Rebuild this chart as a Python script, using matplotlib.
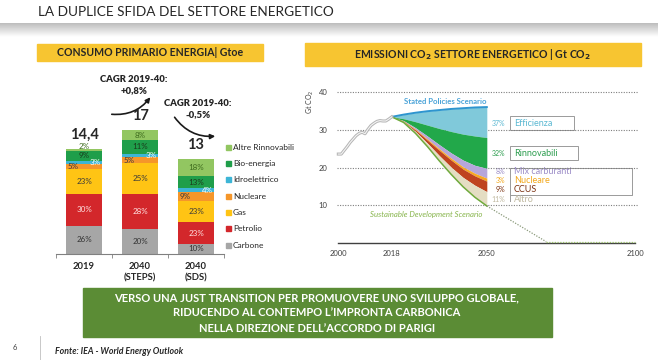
import numpy as np
import matplotlib
matplotlib.use('Agg')
import matplotlib.pyplot as plt
from matplotlib.patches import Rectangle, FancyArrowPatch

plt.rcParams['font.family'] = ['Lato', 'DejaVu Sans']

# consumo primario di energia (Gtoe) e quote per fonte
scenari = ['2019', '2040\n(STEPS)', '2040\n(SDS)']
totali = [14.4, 17, 13]
totali_lbl = ['14,4', '17', '13']
fonti = ['Carbone', 'Petrolio', 'Gas', 'Nucleare', 'Idroelettrico', 'Bio-energia', 'Altre Rinnovabili']
quote_2019 = [26, 30, 23, 5, 3, 9, 2]
quote_steps = [20, 28, 25, 5, 3, 11, 8]
quote_sds = [10, 23, 23, 9, 4, 13, 18]
colori_fonti = ['#A6A6A6', '#D3272B', '#FFC414', '#F5962A', '#3DB5D6', '#1F9E4A', '#92C661']
colori_lbl = ['#333333', '#FFE2E2', '#3A3A3A', '#3A3A3A', '#FFFFFF', '#1B3A1B', '#3E6B1E']

# emissioni CO2 (Gt)
anni_storici = [2000, 2001, 2002, 2003, 2004, 2005, 2006, 2007, 2008, 2009,
                2010, 2011, 2012, 2013, 2014, 2015, 2016, 2017, 2018]
emissioni_storiche = [23.6, 23.6, 24.6, 25.6, 26.7, 27.6, 28.5, 29.1, 29.4, 29.0,
                      30.2, 31.2, 31.8, 32.3, 32.5, 32.4, 32.4, 32.9, 33.5]
anni_scenario = [2018, 2022, 2026, 2030, 2034, 2038, 2042, 2046, 2050]
stated_policies = [33.5, 34.1, 34.6, 35.0, 35.3, 35.6, 35.8, 36.0, 36.1]
lim_efficienza = [33.5, 33.0, 32.2, 31.3, 30.4, 29.6, 28.9, 28.4, 28.0]
lim_rinnovabili = [33.5, 32.5, 30.6, 28.4, 26.1, 23.9, 22.0, 20.6, 19.8]
lim_mix = [33.5, 32.4, 30.2, 27.6, 25.0, 22.5, 20.2, 18.5, 17.2]
lim_nucleare = [33.5, 32.3, 30.0, 27.3, 24.6, 22.0, 19.6, 17.8, 16.4]
lim_ccus = [33.5, 32.2, 29.6, 26.5, 23.2, 20.1, 17.4, 15.3, 13.6]
sustainable = [33.5, 32.0, 29.1, 25.6, 21.8, 18.2, 14.9, 12.1, 9.8]
anni_estensione = [2050, 2070, 2100]
sds_estensione = [9.8, 0.3, 0.3]
leve = ['Efficienza', 'Rinnovabili', 'Mix carburanti', 'Nucleare', 'CCUS', 'Altro']
leve_pct = ['37%', '32%', '8%', '3%', '9%', '11%']
colori_leve = ['#80C9DA', '#22A84A', '#B6A6DA', '#F7A823', '#BF4320', '#E4DDC3']
colori_leve_txt = ['#5BB8D2', '#2E9E50', '#9C8DC8', '#F2A81D', '#7A3010', '#C0B9A0']

fig = plt.figure(figsize=(6.58, 3.6), dpi=100)

# layer di sfondo in coordinate pixel
bg = fig.add_axes([0, 0, 1, 1], zorder=0)
bg.imshow(np.linspace(0.74, 1.0, 40)[:, None], cmap='gray', vmin=0, vmax=1,
          extent=[0, 658, 37, 23], aspect='auto')
bg.text(38, 12, 'LA DUPLICE SFIDA DEL SETTORE ENERGETICO', fontsize=9.8,
        color='#262626', va='center', ha='left')
bg.add_patch(Rectangle((37, 44), 226, 17, color='#F7C531'))
bg.text(150, 52.5, 'CONSUMO PRIMARIO ENERGIA| Gtoe', fontsize=7.6, fontweight='bold',
        color='#262626', ha='center', va='center')
bg.add_patch(Rectangle((305, 43), 336, 23, color='#F7C531'))
bg.text(473, 55, r'EMISSIONI CO$_\mathbf{2}$ SETTORE ENERGETICO | Gt CO$_\mathbf{2}$', fontsize=7.6,
        fontweight='bold', color='#262626', ha='center', va='center')

# CAGR con frecce
bg.text(134, 85, 'CAGR 2019-40:\n+0,8%', fontsize=6.8, fontweight='heavy', color='#262626',
        ha='center', va='center', linespacing=1.4)
bg.text(198, 109, 'CAGR 2019-40:\n-0,5%', fontsize=6.8, fontweight='heavy', color='#262626',
        ha='center', va='center', linespacing=1.4)
bg.add_patch(FancyArrowPatch((109, 114), (152, 95), connectionstyle='arc3,rad=0.3',
                             arrowstyle='-|>', mutation_scale=7, lw=1.2, color='#1A1A1A'))
bg.add_patch(FancyArrowPatch((173, 115), (218, 136), connectionstyle='arc3,rad=0.3',
                             arrowstyle='-|>', mutation_scale=7, lw=1.2, color='#1A1A1A'))

# legenda fonti
for k, j in enumerate(range(len(fonti) - 1, -1, -1)):
    y = 147 + 16.35 * k
    bg.add_patch(Rectangle((226, y - 2.5), 5, 5, color=colori_fonti[j]))
    bg.text(233, y, fonti[j], fontsize=6, color='#262626', va='center', ha='left')

# etichette leve di riduzione
bg.text(310, 102, r'Gt CO$_2$', fontsize=5, rotation=90, color='#404040', ha='center', va='center')
bg.add_patch(Rectangle((510, 116), 64, 14, fill=False, ec='#9A9A9A', lw=0.7))
bg.add_patch(Rectangle((510, 146), 68, 14, fill=False, ec='#9A9A9A', lw=0.7))
bg.plot([510, 632, 632, 510], [168, 168, 195, 195], color='#9A9A9A', lw=0.7)
bg.plot([510, 510], [168, 201], color='#9A9A9A', lw=0.7)
ys_leve = [123, 153, 172, 180.5, 189.5, 199]
for k in range(len(leve)):
    bg.text(505, ys_leve[k], leve_pct[k], fontsize=5, color=colori_leve_txt[k], ha='right', va='center')
    bg.text(514, ys_leve[k], leve[k], fontsize=6.5, color=colori_leve_txt[k], ha='left', va='center')
bg.text(445, 101, 'Stated Policies Scenario', fontsize=5.6, fontweight='bold',
        color='#4AA3D8', ha='center', va='center')
bg.text(426, 214.5, 'Sustainable Development Scenario', fontsize=5.6, style='italic',
        color='#86B44A', ha='center', va='center')

# banner e piede
bg.add_patch(Rectangle((83, 288), 469, 49, color='#5B8C35'))
for k, riga in enumerate(['VERSO UNA JUST TRANSITION PER PROMUOVERE UNO SVILUPPO GLOBALE,',
                          'RIDUCENDO AL CONTEMPO L\u2019IMPRONTA CARBONICA',
                          'NELLA DIREZIONE DELL\u2019ACCORDO DI PARIGI']):
    bg.text(317, 298 + 15 * k, riga, fontsize=8.0, fontweight='bold', color='white',
            ha='center', va='center')
bg.text(15, 348, '6', fontsize=5.5, color='#404040', ha='center', va='center')
bg.plot([40, 40], [336, 360], color='#BFBFBF', lw=0.6)
bg.text(55, 352, 'Fonte: IEA - World Energy Outlook', fontsize=6.3, fontweight='bold',
        style='italic', color='#262626', ha='left', va='center')
bg.set_xlim(0, 658)
bg.set_ylim(360, 0)
bg.axis('off')

# grafico a barre impilate
ax = fig.add_axes([56 / 658, 1 - 253.5 / 360, 168 / 658, 133.5 / 360], zorder=1)
ax.patch.set_alpha(0)
x = np.arange(len(scenari))
quote = np.array([quote_2019, quote_steps, quote_sds], float)
H = (np.array(totali)[:, None] * quote / quote.sum(axis=1, keepdims=True)).T
B = np.vstack([np.zeros(3), np.cumsum(H, axis=0)[:-1]])
for j in range(len(fonti)):
    ax.bar(x, H[j], bottom=B[j], width=0.66, color=colori_fonti[j], edgecolor='none')
    for i in range(len(scenari)):
        dx = -0.2 if j == 3 else (0.2 if j == 4 else 0)
        y = B[j, i] + H[j, i] / 2
        if H[j, i] < 0.4:
            y = B[j, i] + H[j, i] + 0.3
        ax.text(x[i] + dx, y, '%d%%' % quote[i, j], fontsize=5.8, color=colori_lbl[j],
                ha='center', va='center')
for i in range(len(scenari)):
    ax.text(x[i], totali[i] + 1.9, totali_lbl[i], fontsize=10.5, fontweight='bold',
            color='#262626', ha='center', va='center')
ax.set_xlim(-0.5, 2.5)
ax.set_ylim(0, 18.4)
ax.set_xticks(x)
ax.set_xticklabels(scenari, fontsize=6.8, fontweight='bold', color='#262626', linespacing=1.3)
ax.set_xticks([-0.5, 0.5, 1.5, 2.5], minor=True)
ax.tick_params(axis='x', which='major', length=0, pad=6)
ax.tick_params(axis='x', which='minor', length=3, color='#808080')
ax.set_yticks([])
for s in ['top', 'left', 'right']:
    ax.spines[s].set_visible(False)
ax.spines['bottom'].set_color('#808080')

# grafico emissioni
ax2 = fig.add_axes([330 / 658, 1 - 246 / 360, 320 / 658, 166 / 360], zorder=1)
ax2.patch.set_alpha(0)
for v in [10, 20, 30, 40]:
    ax2.plot([1999.5, 2101], [v, v], color='#7F7F7F', lw=0.8, ls=(0, (1, 1.3)), zorder=1)
ax2.plot([2000, 2100], [0, 0], color='#404040', lw=1.0, zorder=1)
limiti = [stated_policies, lim_efficienza, lim_rinnovabili, lim_mix, lim_nucleare, lim_ccus, sustainable]
for k in range(len(leve)):
    ax2.fill_between(anni_scenario, limiti[k + 1], limiti[k], color=colori_leve[k], lw=0, zorder=2)
ax2.plot(anni_scenario, stated_policies, color='#2E95CF', lw=1.4, zorder=3)
ax2.plot(anni_scenario, sustainable, color='#6FAA3C', lw=1.1, zorder=3)
ax2.plot(anni_estensione[:2], sds_estensione[:2], color='#8A9A7A', lw=0.9, ls=(0, (1, 1.2)), zorder=3)
ax2.plot(anni_estensione[1:], sds_estensione[1:], color='#9CC46A', lw=0.9, ls=(0, (1, 1.2)), zorder=3)
ax2.plot(anni_storici, emissioni_storiche, color='#B4B4B4', lw=2.2, zorder=3)
ax2.plot(anni_storici, emissioni_storiche, color='#F4F4F4', lw=0.8, zorder=4)
ax2.set_xlim(1997.2, 2104.95)
ax2.set_ylim(-0.85, 43.3)
ax2.set_yticks([10, 20, 30, 40])
ax2.set_yticklabels(['10', '20', '30', '40'], fontsize=5.5, color='#404040')
ax2.set_xticks([2000, 2018, 2050, 2100])
ax2.set_xticklabels(['2000', '2018', '2050', '2100'], fontsize=5.5, color='#404040')
ax2.tick_params(length=0, pad=2)
ax2.tick_params(axis='x', pad=3)
for s in ax2.spines.values():
    s.set_visible(False)

fig.savefig('out.png', dpi=100)
